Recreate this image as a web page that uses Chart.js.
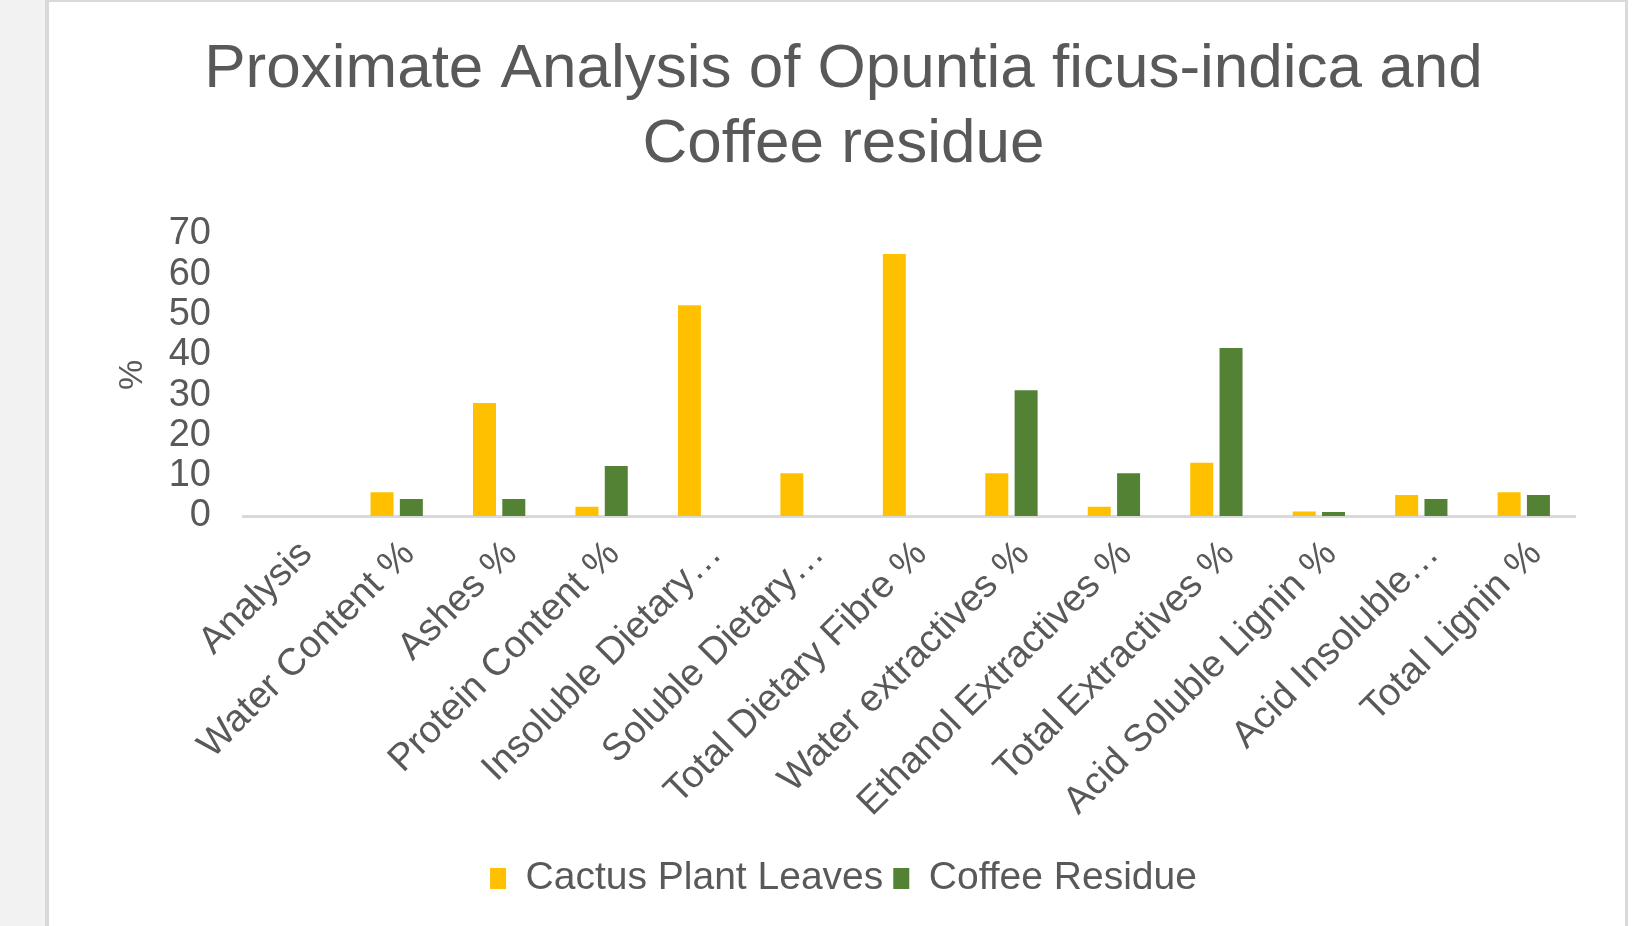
<!DOCTYPE html>
<html lang="en">
<head>
    <meta charset="UTF-8">
    <title>Proximate Analysis</title>
    <script src="https://cdn.jsdelivr.net/npm/chart.js"></script>
    <style>
        body { margin: 0; background: #fff; width: 1641px; height: 926px; overflow: hidden; position: relative; }
        .lado { position: absolute; left: 0; top: 0; width: 45px; height: 926px; background: #f2f2f2; }
        .caixa { position: absolute; left: 45px; top: 0; width: 1576px; height: 926px; background: #fff;
                 border-left: 4px solid #d9d9d9; border-top: 2px solid #d9d9d9; border-right: 3px solid #d9d9d9; }
        #grafico { position: absolute; left: 0; top: 0; }
    </style>
</head>
<body>
    <div class="lado"></div>
    <div class="caixa"></div>
    <canvas id="grafico" width="1641" height="926"></canvas>
</body>
</html>
<script>

var categorias = [
    'Analysis',
    'Water Content %',
    'Ashes %',
    'Protein Content %',
    'Insoluble Dietary…',
    'Soluble Dietary…',
    'Total Dietary Fibre %',
    'Water extractives %',
    'Ethanol Extractives %',
    'Total Extractives %',
    'Acid Soluble Lignin %',
    'Acid Insoluble…',
    'Total Lignin %'
]

var cactus = [null, 5.9, 28, 2.3, 52.3, 10.6, 65, 10.6, 2.3, 13.2, 1.1, 5.2, 5.9]
var cafe   = [null, 4.2, 4.2, 12.4, null, null, null, 31.2, 10.6, 41.7, 1.0, 4.2, 5.2]

var ticksY = [0, 10, 20, 30, 40, 50, 60, 70]

var cinza = '#595959'
var fonte = '"Liberation Sans", Arial, sans-serif'

var data = {
    labels: categorias,
    datasets: [{
        label: 'Cactus Plant Leaves',
        data: cactus,
        backgroundColor: '#ffc000',
        categoryPercentage: 0.572,
        barPercentage: 0.785
    }, {
        label: 'Coffee Residue',
        data: cafe,
        backgroundColor: '#548235',
        categoryPercentage: 0.572,
        barPercentage: 0.785
    }]
}

var config = {
    type: 'bar',
    data: data,
    options: {
        responsive: false,
        animation: false,
        layout: { padding: { left: 112, right: 66, top: 0, bottom: 18 } },
        plugins: {
            title: {
                display: true,
                text: ['Proximate Analysis of Opuntia ficus-indica and', 'Coffee residue'],
                color: cinza,
                font: { family: fonte, size: 62, weight: 'normal', lineHeight: 1.2 },
                padding: { top: 33, bottom: 52 }
            },
            legend: {
                position: 'bottom',
                labels: {
                    color: cinza,
                    font: { family: fonte, size: 39 },
                    boxWidth: 16,
                    boxHeight: 21,
                    padding: 10
                }
            },
            tooltip: { enabled: false }
        },
        scales: {
            x: {
                grid: { display: false },
                border: { display: true, color: '#d9d9d9', width: 3 },
                ticks: {
                    color: cinza,
                    font: { family: fonte, size: 38 },
                    minRotation: 45,
                    maxRotation: 45,
                    autoSkip: false,
                    labelOffset: 12,
                    padding: 8
                },
                afterFit: function (s) { s.height = 333 }
            },
            y: {
                min: 0,
                max: 70,
                afterBuildTicks: function (s) { s.ticks = ticksY.map(function (v) { return { value: v } }) },
                grid: { display: false },
                border: { display: false },
                ticks: {
                    color: cinza,
                    font: { family: fonte, size: 38 },
                    autoSkip: false,
                    padding: 24
                },
                title: {
                    display: true,
                    text: '%',
                    color: cinza,
                    font: { family: fonte, size: 34 },
                    padding: 0
                },
                afterFit: function (s) { s.width = 131 }
            }
        }
    }
}

var grafico = new Chart(document.getElementById('grafico'), config)

</script>
